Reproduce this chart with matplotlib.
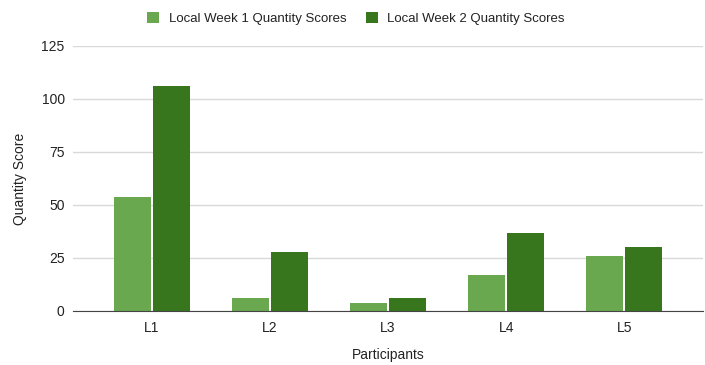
import matplotlib
matplotlib.use("Agg")
import matplotlib.pyplot as plt
import numpy as np

categories = ["L1", "L2", "L3", "L4", "L5"]
week1 = [54, 6, 4, 17, 26]
week2 = [106, 28, 6, 37, 30]
series_names = ["Local Week 1 Quantity Scores", "Local Week 2 Quantity Scores"]
yticks = [0, 25, 50, 75, 100, 125]

plt.rcParams['font.family'] = ['Liberation Sans', 'DejaVu Sans']

fig = plt.figure(figsize=(7.05, 3.65), dpi=100)
ax = fig.add_axes([0.1035, 0.148, 0.894, 0.726])

x = np.arange(len(categories))
w = 0.31
off = 0.166
c1, c2 = "#6aa84f", "#38761d"
ax.bar(x - off, week1, width=w, color=c1, label=series_names[0], zorder=3)
ax.bar(x + off, week2, width=w, color=c2, label=series_names[1], zorder=3)

ax.set_xlim(-0.67, 4.67)
ax.set_ylim(0, 125)
ax.set_yticks(yticks)
ax.set_xticks(x)
ax.set_xticklabels(categories)
ax.grid(axis='y', color='#d9d9d9', linewidth=1, zorder=0)
for s in ['top', 'right', 'left']:
    ax.spines[s].set_visible(False)
ax.spines['bottom'].set_color('#444444')
ax.spines['bottom'].set_zorder(4)
ax.tick_params(axis='both', length=0, labelsize=10, colors='#222222')
ax.tick_params(axis='y', pad=6)
ax.tick_params(axis='x', pad=7)
ax.set_ylabel("Quantity Score", fontsize=10, color='#222222', labelpad=10)
ax.set_xlabel("Participants", fontsize=10, color='#222222', va='center')
ax.xaxis.set_label_coords(0.5, -0.166)

fig.legend(loc='upper center', bbox_to_anchor=(0.505, 1.0), ncol=2, frameon=False,
           fontsize=9.5, handlelength=0.9, handleheight=0.9, handletextpad=0.7,
           columnspacing=1.5, labelcolor='#222222')

fig.savefig("out.png", dpi=100)
